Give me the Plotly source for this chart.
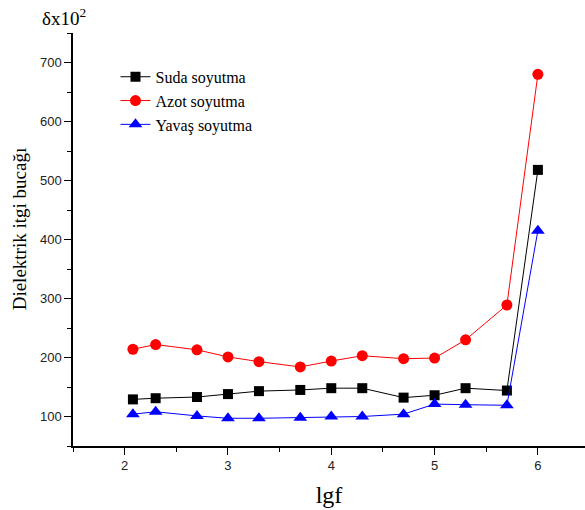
import plotly.graph_objects as go

lgf = [2.08, 2.3, 2.7, 3.0, 3.3, 3.7, 4.0, 4.3, 4.7, 5.0, 5.3, 5.7, 6.0]
suda = [129, 131, 133, 138, 143, 145, 148, 148, 132, 136, 148, 144, 518]
azot = [214, 222, 213, 201, 193, 184, 194, 203, 198, 199, 230, 289, 680]
yavas = [104, 108, 101, 97, 97, 98, 100, 100, 104, 121, 120, 119, 415]

series_names = ["Suda soyutma", "Azot soyutma", "Yavaş soyutma"]
x_ticks = [2, 3, 4, 5, 6]
y_ticks = [100, 200, 300, 400, 500, 600, 700]

serif = "Liberation Serif, Times New Roman, serif"
sans = "Liberation Sans, Arial, sans-serif"

fig = go.Figure()
fig.add_trace(go.Scatter(x=lgf, y=suda, name=series_names[0], mode="lines+markers",
                         line=dict(color="black", width=1),
                         marker=dict(symbol="square", size=10, color="black")))
fig.add_trace(go.Scatter(x=lgf, y=azot, name=series_names[1], mode="lines+markers",
                         line=dict(color="red", width=1),
                         marker=dict(symbol="circle", size=11, color="red")))
fig.add_trace(go.Scatter(x=lgf, y=yavas, name=series_names[2], mode="lines+markers",
                         line=dict(color="blue", width=1),
                         marker=dict(symbol="triangle-up", size=12, color="blue")))

fig.update_layout(
    width=585, height=510,
    margin=dict(l=73, r=0, t=33, b=64),
    plot_bgcolor="white", paper_bgcolor="white",
    showlegend=True,
    legend=dict(x=0.083, y=0.935, xanchor="left", yanchor="top",
                font=dict(family=serif, size=16, color="black"),
                bgcolor="rgba(0,0,0,0)", tracegroupgap=0, itemwidth=30),
    xaxis=dict(range=[1.5, 6.456], tickvals=x_ticks, ticks="outside", ticklen=7,
               tickwidth=1, tickcolor="black", showline=True, linecolor="black",
               linewidth=1.5, showgrid=False, zeroline=False,
               minor=dict(dtick=0.5, tick0=1.5, ticks="outside", ticklen=4,
                          tickcolor="black", tickwidth=1, showgrid=False),
               tickfont=dict(family=sans, size=13, color="#222"),
               title=dict(text="lgf", font=dict(family=serif, size=24, color="black"),
                          standoff=14)),
    yaxis=dict(range=[50, 750], tickvals=y_ticks, ticks="outside", ticklen=7,
               tickwidth=1, tickcolor="black", showline=True, linecolor="black",
               linewidth=1.5, showgrid=False, zeroline=False,
               minor=dict(dtick=50, tick0=50, ticks="outside", ticklen=4,
                          tickcolor="black", tickwidth=1, showgrid=False),
               tickfont=dict(family=sans, size=13, color="#222")),
)
fig.add_annotation(text="Dielektrik itgi bucağı", xref="paper", yref="paper",
                   x=-0.1055, y=0.527, xanchor="center", yanchor="middle",
                   textangle=-90, showarrow=False,
                   font=dict(family=serif, size=19, color="black"))
fig.add_annotation(text="δx10<sup>2</sup>", xref="paper", yref="paper",
                   x=-0.065, y=1.0, xanchor="left", yanchor="bottom", yshift=2,
                   showarrow=False, font=dict(family=serif, size=19, color="black"))

fig.write_html("out.html")
